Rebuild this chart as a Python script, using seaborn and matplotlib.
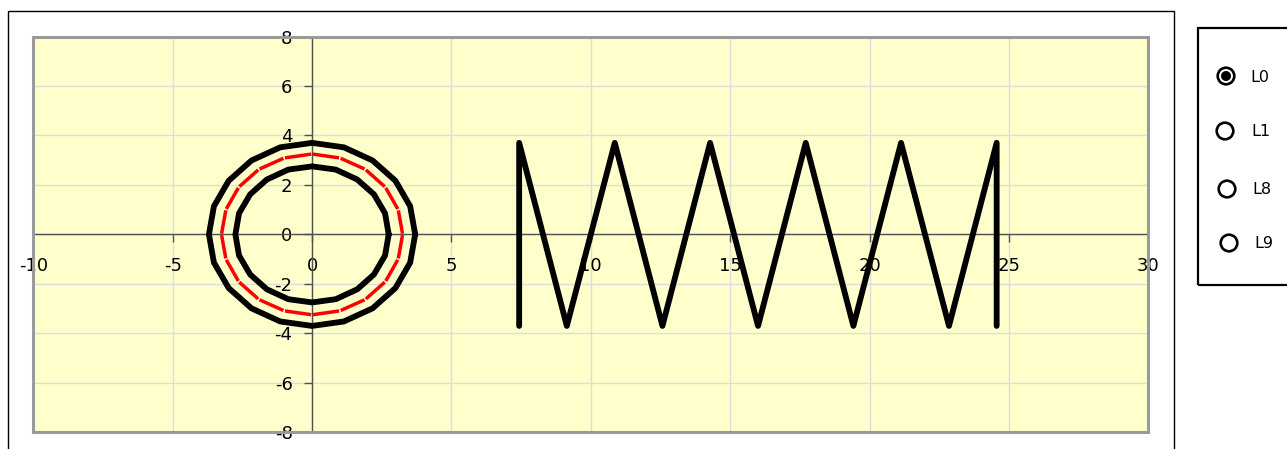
import numpy as np
import pandas as pd
import matplotlib
matplotlib.use("Agg")
import matplotlib.pyplot as plt
from matplotlib.patches import Rectangle, Ellipse
import seaborn as sns

# ---- data -------------------------------------------------------------
outer_x = [3.7, 3.52, 2.99, 2.17, 1.14, 0.0, -1.14, -2.17, -2.99, -3.52, -3.7,
           -3.52, -2.99, -2.17, -1.14, 0.0, 1.14, 2.17, 2.99, 3.52, 3.7]
outer_y = [0.0, 1.14, 2.17, 2.99, 3.52, 3.7, 3.52, 2.99, 2.17, 1.14, 0.0,
           -1.14, -2.17, -2.99, -3.52, -3.7, -3.52, -2.99, -2.17, -1.14, 0.0]

mid_x = [3.25, 3.09, 2.63, 1.91, 1.0, 0.0, -1.0, -1.91, -2.63, -3.09, -3.25,
         -3.09, -2.63, -1.91, -1.0, 0.0, 1.0, 1.91, 2.63, 3.09, 3.25]
mid_y = [0.0, 1.0, 1.91, 2.63, 3.09, 3.25, 3.09, 2.63, 1.91, 1.0, 0.0,
         -1.0, -1.91, -2.63, -3.09, -3.25, -3.09, -2.63, -1.91, -1.0, 0.0]

inner_x = [2.75, 2.62, 2.22, 1.62, 0.85, 0.0, -0.85, -1.62, -2.22, -2.62, -2.75,
           -2.62, -2.22, -1.62, -0.85, 0.0, 0.85, 1.62, 2.22, 2.62, 2.75]
inner_y = [0.0, 0.85, 1.62, 2.22, 2.62, 2.75, 2.62, 2.22, 1.62, 0.85, 0.0,
           -0.85, -1.62, -2.22, -2.62, -2.75, -2.62, -2.22, -1.62, -0.85, 0.0]

zigzag_x = [7.43, 7.43, 9.14, 10.86, 12.57, 14.28, 16.0, 17.71, 19.42,
            21.13, 22.85, 24.56, 24.56]
zigzag_y = [-3.7, 3.7, -3.7, 3.7, -3.7, 3.7, -3.7, 3.7, -3.7, 3.7, -3.7, 3.7, -3.7]

x_ticks = [-10, -5, 0, 5, 10, 15, 20, 25, 30]
y_ticks = [-8, -6, -4, -2, 0, 2, 4, 6, 8]
option_labels = ["L0", "L1", "L8", "L9"]
selected_option = "L0"

# ---- figure -----------------------------------------------------------
W, H = 1287, 449
sns.set_theme(style="white")
plt.rcParams["font.family"] = ["DejaVu Sans"]

fig = plt.figure(figsize=(W / 100, H / 100), dpi=100)
fig.patch.set_facecolor("white")


def fx(px):
    return px / W


def fy(py):
    return 1 - py / H


ax = fig.add_axes([fx(33.3), fy(432.3), fx(1148.3) - fx(33.3), fy(36.5) - fy(432.3)])
ax.set_facecolor("#FFFFCC")

# black rings and zigzag
for xs, ys in [(outer_x, outer_y), (inner_x, inner_y), (zigzag_x, zigzag_y)]:
    df = pd.DataFrame({"x": xs, "y": ys})
    sns.lineplot(data=df, x="x", y="y", sort=False, estimator=None, ax=ax,
                 color="black", linewidth=4.2, zorder=5,
                 solid_joinstyle="round", solid_capstyle="round")

# red ring: one piece per polygon side, with a small break at each corner
rows = []
for i in range(len(mid_x) - 1):
    x0, y0, x1, y1 = mid_x[i], mid_y[i], mid_x[i + 1], mid_y[i + 1]
    for t in (0.03, 0.97):
        rows.append({"seg": i, "x": x0 + t * (x1 - x0), "y": y0 + t * (y1 - y0)})
red_df = pd.DataFrame(rows)
sns.lineplot(data=red_df, x="x", y="y", units="seg", sort=False, estimator=None,
             ax=ax, color="#FF0000", linewidth=2.5, zorder=6,
             solid_capstyle="butt")

ax.set_xlim(-10, 30)
ax.set_ylim(-8, 8)
ax.set_xticks(x_ticks)
ax.set_yticks(y_ticks)
ax.set_xticklabels([str(v) for v in x_ticks])
ax.set_yticklabels([str(v) for v in y_ticks])
ax.set_xlabel("")
ax.set_ylabel("")

ax.grid(True, color="#DCDCDC", linewidth=1.0, zorder=0)
ax.set_axisbelow(True)

# axes crossing at zero
for side in ("left", "bottom"):
    ax.spines[side].set_position(("data", 0))
    ax.spines[side].set_color("#505050")
    ax.spines[side].set_linewidth(1.0)
    ax.spines[side].set_zorder(3)
for side in ("top", "right"):
    ax.spines[side].set_visible(False)

ax.tick_params(axis="x", direction="out", length=6, width=1, color="#505050",
               pad=10, labelsize=13, labelcolor="black")
ax.tick_params(axis="y", direction="out", length=6, width=1, color="#505050",
               pad=8, labelsize=13, labelcolor="black")
ax.xaxis.set_ticks_position("bottom")
ax.yaxis.set_ticks_position("left")

# plot-area border
ax.add_patch(Rectangle((0, 0), 1, 1, transform=ax.transAxes, fill=False,
                       edgecolor="#9A9A9A", linewidth=2.2, clip_on=False, zorder=10))

# chart frame
fig.add_artist(Rectangle((fx(8.3), fy(470)), fx(1174) - fx(8.3), fy(10.5) - fy(470),
                         transform=fig.transFigure, fill=False,
                         edgecolor="black", linewidth=1.0))

# option panel
fig.add_artist(Rectangle((fx(1198), fy(285)), fx(1300) - fx(1198), fy(28.5) - fy(285),
                         transform=fig.transFigure, fill=False,
                         edgecolor="black", linewidth=1.6, clip_on=False))

option_cx = [1226, 1225, 1227, 1229]
option_cy = [76, 131, 189, 243]
label_x = [1250, 1251, 1252, 1254]
r = 8.3
for lab, cx, cy, lx in zip(option_labels, option_cx, option_cy, label_x):
    fig.add_artist(Ellipse((fx(cx), fy(cy)), 2 * r / W, 2 * r / H,
                           transform=fig.transFigure, facecolor="white",
                           edgecolor="black", linewidth=1.9))
    if lab == selected_option:
        fig.add_artist(Ellipse((fx(cx), fy(cy)), 10 / W, 10 / H,
                               transform=fig.transFigure, facecolor="black",
                               edgecolor="none"))
    fig.text(fx(lx), fy(cy + 1), lab, ha="left", va="center", fontsize=11.5,
             color="black")

fig.savefig("out.png", dpi=100, facecolor="white")
